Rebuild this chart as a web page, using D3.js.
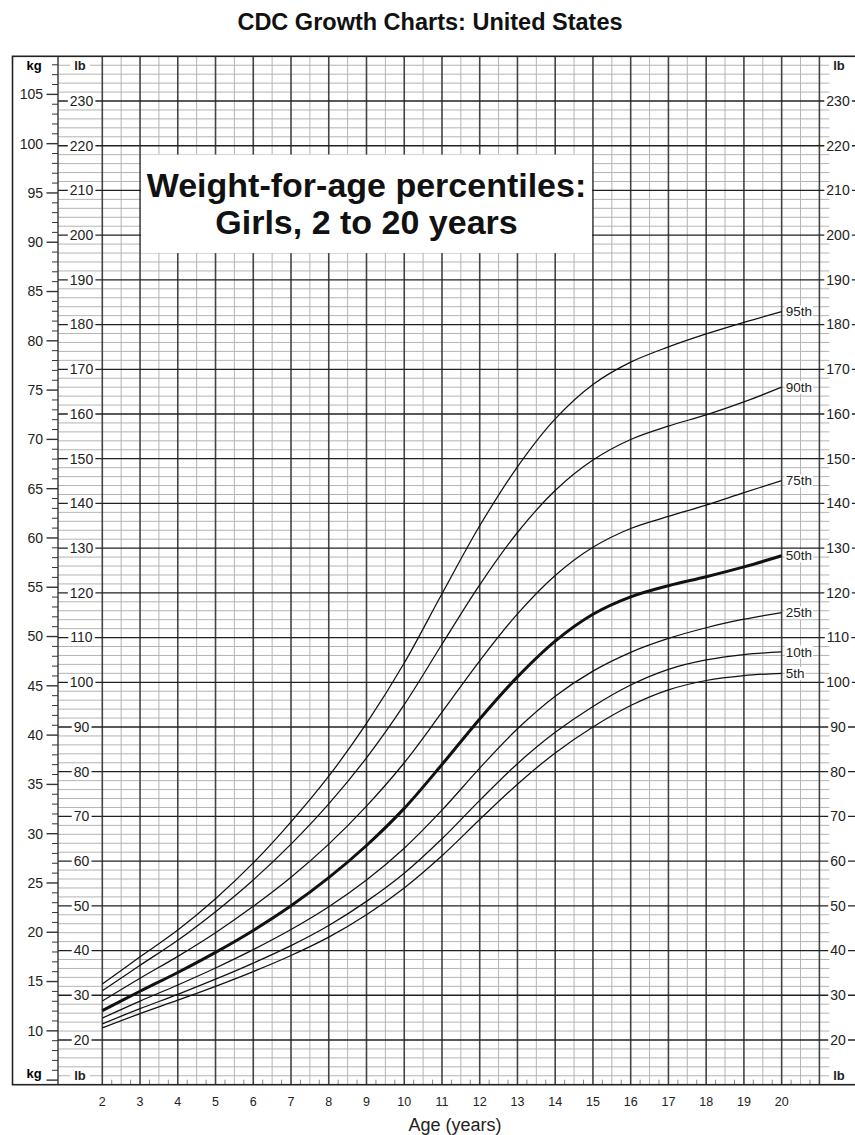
<!DOCTYPE html>
<html><head><meta charset="utf-8">
<script src="https://cdn.jsdelivr.net/npm/d3@7"></script>
<style>
body{margin:0;background:#fff;}
svg{display:block;font-family:"Liberation Sans",Arial,Helvetica,sans-serif;}
</style>
</head><body>
<svg id="c" width="855" height="1135"></svg>
<script>
// ---- data (weights in lb) ----
const ages = [2,3,4,5,6,7,8,9,10,11,12,13,14,15,16,17,18,19,20];
const p5  = [22.7,25.9,28.9,32.0,35.3,38.9,43.0,48.0,54.0,61.2,69.3,77.2,84.2,90.0,94.8,98.3,100.4,101.5,102.0];
const p10 = [23.6,27.0,30.2,33.6,37.2,41.1,45.6,51.0,57.3,65.0,73.6,81.8,88.8,94.6,99.4,102.9,105.0,106.2,106.8];
const p25 = [24.9,28.7,32.3,36.1,40.2,44.7,49.8,55.8,62.9,71.4,80.8,89.6,96.9,102.5,106.7,109.8,112.2,114.1,115.6];
const p50 = [26.55,30.9,35.1,39.6,44.5,50.0,56.3,63.5,71.8,81.6,91.8,101.2,109.2,115.2,119.1,121.6,123.6,125.8,128.3];
const p75 = [28.7,33.8,38.7,44.0,49.9,56.4,63.8,72.3,82.0,93.3,104.8,115.3,123.9,130.2,134.4,137.1,139.6,142.4,145.1];
const p90 = [31.0,36.7,42.3,48.7,55.8,63.8,72.8,83.1,95.0,108.5,121.8,133.5,142.9,149.7,154.3,157.3,159.8,162.7,166.0];
const p95 = [32.5,38.6,44.6,51.6,59.6,68.8,79.0,90.8,104.3,119.8,135.0,148.2,158.9,166.6,171.6,175.0,177.9,180.5,182.9];
const seriesNames = ["5th","10th","25th","50th","75th","90th","95th"];
const seriesValues = [p5,p10,p25,p50,p75,p90,p95];
const ageTicks = [2,3,4,5,6,7,8,9,10,11,12,13,14,15,16,17,18,19,20];
const lbTicks = [20,30,40,50,60,70,80,90,100,110,120,130,140,150,160,170,180,190,200,210,220,230];
const kgTicks = [10,15,20,25,30,35,40,45,50,55,60,65,70,75,80,85,90,95,100,105];
const titleText = "CDC Growth Charts: United States";
const boxLines = ["Weight-for-age percentiles:", "Girls, 2 to 20 years"];
const xTitle = "Age (years)";

// ---- layout ----
const svg = d3.select("#c");
const x = d3.scaleLinear().domain([2,21]).range([102.3,819.4]);
const y = d3.scaleLinear().domain([10,240]).range([1084.7,56.3]);
const LB_PER_KG = 2.20462;
const yk = kg => y(kg*LB_PER_KG);
const frameL = 12.5, kgR = 58, gridR = x(21), frameR = 858;
const yTop = y(240), yBot = y(10);

svg.append("rect").attr("width",855).attr("height",1135).attr("fill","#fff");

// title
svg.append("text").attr("x",430).attr("y",30).attr("text-anchor","middle")
  .attr("font-weight","bold").attr("font-size",23.5).attr("fill","#111").text(titleText);

const g = svg.append("g");

// minor horizontal lines every 2 lb
const minorLb = d3.range(12, 240, 2).filter(v => v % 10 !== 0);
g.selectAll(".hmin").data(minorLb).join("line")
  .attr("x1",kgR).attr("x2",gridR+10).attr("y1",d=>y(d)).attr("y2",d=>y(d))
  .attr("stroke","#b4b4b4").attr("stroke-width",1);

// minor vertical lines every half year
const halfYears = d3.range(2.5, 21, 1);
g.selectAll(".vmin").data(halfYears).join("line")
  .attr("x1",d=>x(d)).attr("x2",d=>x(d)).attr("y1",yTop).attr("y2",yBot)
  .attr("stroke","#b4b4b4").attr("stroke-width",1);

// major vertical lines each year
const years = d3.range(2, 22, 1);
g.selectAll(".vmaj").data(years).join("line")
  .attr("x1",d=>x(d)).attr("x2",d=>x(d)).attr("y1",yTop).attr("y2",yBot)
  .attr("stroke","#444").attr("stroke-width",1.6);

// major horizontal lines every 10 lb
g.selectAll(".hmaj").data(lbTicks).join("line")
  .attr("x1",kgR).attr("x2",frameR).attr("y1",d=>y(d)).attr("y2",d=>y(d))
  .attr("stroke","#222").attr("stroke-width",1.3);

// quarter-year ticks on bottom edge
const quarters = d3.range(2.25, 21, 0.5);
g.selectAll(".qt").data(quarters).join("line")
  .attr("x1",d=>x(d)).attr("x2",d=>x(d)).attr("y1",yBot-5).attr("y2",yBot)
  .attr("stroke","#888").attr("stroke-width",1);

// title box
const bx0 = x(3)+1, bx1 = x(15)-1, by0 = y(218), by1 = y(196);
svg.append("rect").attr("x",bx0).attr("y",by0).attr("width",bx1-bx0).attr("height",by1-by0).attr("fill","#fff");
const bcx = (x(3)+x(15))/2;
svg.append("text").attr("x",bcx).attr("y",197).attr("text-anchor","middle")
  .attr("font-weight","bold").attr("font-size",34).attr("fill","#111").text(boxLines[0]);
svg.append("text").attr("x",bcx).attr("y",234).attr("text-anchor","middle")
  .attr("font-weight","bold").attr("font-size",34).attr("fill","#111").text(boxLines[1]);

// kg column: white bg then ticks
svg.append("rect").attr("x",frameL).attr("y",yTop).attr("width",kgR-frameL).attr("height",yBot-yTop).attr("fill","#fff");
const kgAll = d3.range(5, 109, 1);
svg.selectAll(".kt").data(kgAll).join("line")
  .attr("x1",d=> d%5===0 ? 46.5 : 52).attr("x2",kgR).attr("y1",d=>yk(d)).attr("y2",d=>yk(d))
  .attr("stroke","#333").attr("stroke-width",d=> d%5===0 ? 1.4 : 1);
svg.selectAll(".kl").data(kgTicks).join("text")
  .attr("x",43).attr("y",d=>yk(d)).attr("dy","0.35em").attr("text-anchor","end")
  .attr("font-size",14).attr("fill","#222").text(d=>d);

// label helper with white background
function bgLabel(sel, tx, ty, txt, opts){
  const grp = sel.append("g");
  const t = grp.append("text").attr("x",tx).attr("y",ty).attr("dy","0.35em")
    .attr("text-anchor",opts.anchor||"middle").attr("font-size",opts.size||14)
    .attr("font-weight",opts.weight||"normal").attr("fill","#222").text(txt);
  const bb = t.node().getBBox();
  const pl = opts.padL==null ? 2 : opts.padL, pr = opts.padR==null ? 2 : opts.padR;
  grp.insert("rect","text").attr("x",bb.x-pl).attr("y",bb.y+1).attr("width",bb.width+pl+pr)
    .attr("height",bb.height-2).attr("fill","#fff");
  return grp;
}

// lb labels left & right
lbTicks.forEach(v=>{
  bgLabel(svg, 81.5, y(v), v, {size:14});
  bgLabel(svg, 838, y(v), v, {size:14});
});

// headers
svg.append("text").attr("x",34).attr("y",y(238)).attr("dy","0.35em").attr("text-anchor","middle")
  .attr("font-weight","bold").attr("font-size",13).text("kg");
svg.append("text").attr("x",34).attr("y",y(12.6)).attr("dy","0.35em").attr("text-anchor","middle")
  .attr("font-weight","bold").attr("font-size",13).text("kg");
bgLabel(svg, 80, y(238), "lb", {size:13, weight:"bold", padL:4, padR:4});
bgLabel(svg, 80, y(12), "lb", {size:13, weight:"bold", padL:4, padR:4});
bgLabel(svg, 839, y(238), "lb", {size:13, weight:"bold", padL:4, padR:4});
bgLabel(svg, 839, y(12), "lb", {size:13, weight:"bold", padL:4, padR:4});

// frame
svg.append("line").attr("x1",kgR).attr("x2",kgR).attr("y1",yTop).attr("y2",yBot).attr("stroke","#333").attr("stroke-width",1.4);
svg.append("rect").attr("x",frameL).attr("y",yTop).attr("width",frameR-frameL).attr("height",yBot-yTop)
  .attr("fill","none").attr("stroke","#222").attr("stroke-width",1.6);

// percentile curves
const line = d3.line().x((d,i)=>x(ages[i])).y(d=>y(d)).curve(d3.curveCatmullRom.alpha(0.5));
seriesValues.forEach((vals,k)=>{
  svg.append("path").attr("d",line(vals)).attr("fill","none")
    .attr("stroke","#111").attr("stroke-width", seriesNames[k]==="50th" ? 3 : 1.25)
    .attr("stroke-linejoin","round");
});
// percentile labels
seriesValues.forEach((vals,k)=>{
  bgLabel(svg, x(20)+4, y(vals[vals.length-1]), seriesNames[k], {size:13.5, anchor:"start", padL:1, padR:1});
});

// x axis labels
svg.selectAll(".al").data(ageTicks).join("text")
  .attr("x",d=>x(d)).attr("y",1106).attr("text-anchor","middle").attr("font-size",12.5).attr("fill","#222").text(d=>d);
svg.append("text").attr("x",455).attr("y",1131).attr("text-anchor","middle").attr("font-size",18).attr("fill","#222").text(xTitle);
</script>
</body></html>
